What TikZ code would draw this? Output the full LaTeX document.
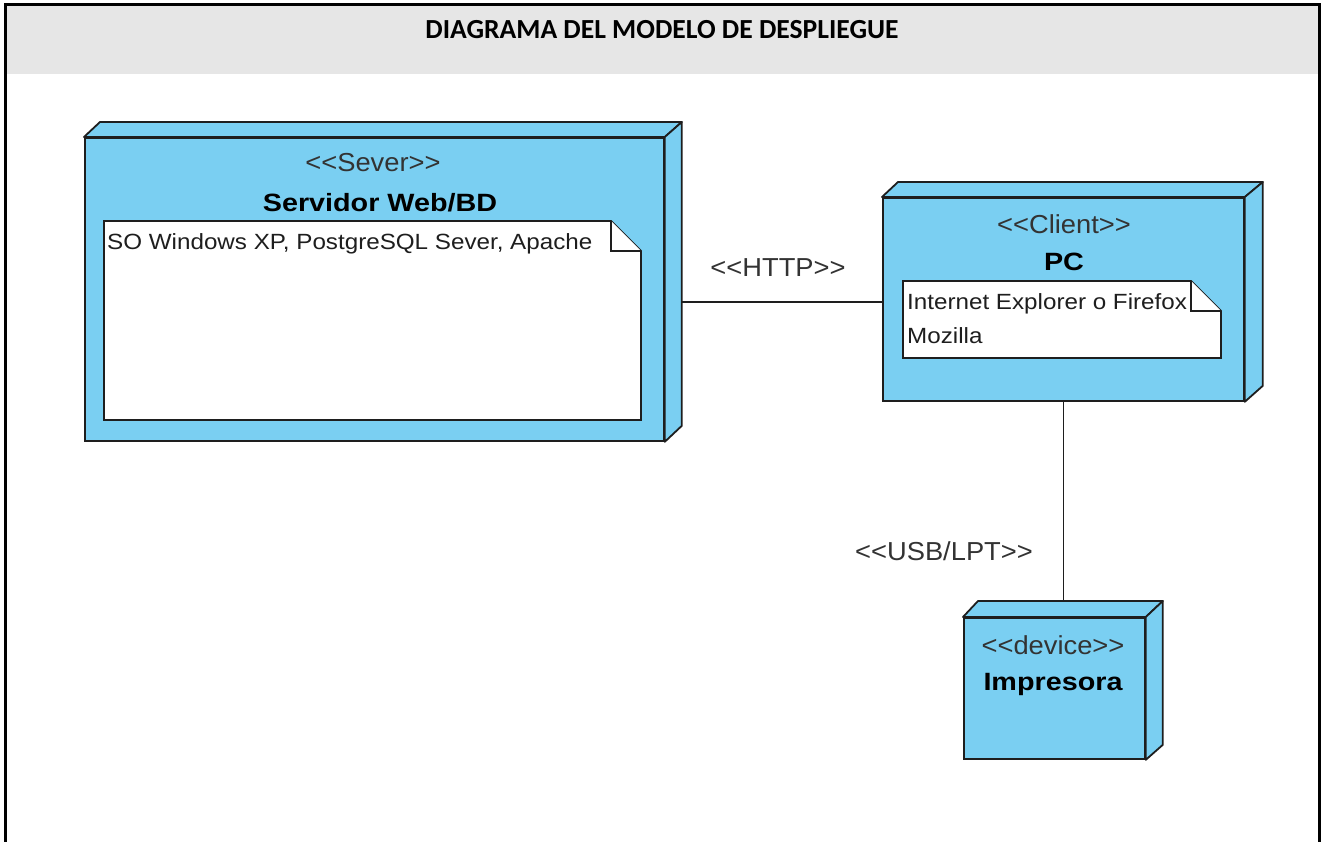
\documentclass[tikz,border=0pt]{standalone}
\usepackage{fontspec}
\setmainfont{Liberation Sans}
\newfontfamily\titlefont{Carlito}
\newfontfamily\notefont[FakeStretch=1.1]{Liberation Sans}
\newfontfamily\stfont[FakeStretch=1.05]{Liberation Sans}
\newfontfamily\namefont[FakeStretch=1.15]{Liberation Sans}
\definecolor{nodeblue}{HTML}{7ACFF2}
\definecolor{edgecol}{HTML}{1E1E1E}
\definecolor{headgray}{HTML}{E6E6E6}
\definecolor{stereocol}{HTML}{333333}
\newcommand\stereo[1]{<{}<#1>{}>}
\begin{document}
\begin{tikzpicture}[x=1pt,y=-1pt,
  face/.style={draw=edgecol,fill=nodeblue,line width=1.8pt,inner sep=0pt,anchor=north west},
  side/.style={draw=edgecol,fill=nodeblue,line width=1.8pt,line join=round},
  note/.style={draw=edgecol,fill=white,line width=1.8pt,line join=miter},
  conn/.style={draw=edgecol,line width=1.8pt},
  stlabel/.style={font=\stfont\fontsize{26}{29}\selectfont,text=stereocol,inner sep=0pt},
  namelabel/.style={font=\namefont\fontsize{25}{28}\selectfont\bfseries,text=black,inner sep=0pt},
  notetext/.style={font=\notefont\fontsize{22}{25}\selectfont,text=edgecol,inner sep=0pt,anchor=west},
  title/.style={font=\titlefont\fontsize{27.6}{30}\selectfont\bfseries,inner sep=0pt}]
\useasboundingbox (0,0) rectangle (1325,842);
% header and frame
\fill[headgray] (5,5) rectangle (1319,74);
\draw[line width=3pt] (5,842) -- (5,5) -- (1319,5) -- (1319,842);
\node[title] (ttl) at (662,30) {DIAGRAMA DEL MODELO DE DESPLIEGUE};

% Servidor
\node[face,minimum width=579pt,minimum height=303pt] (srv) at (84,137) {};
\draw[side] (srv.north west) -- ++(16,-15) -- ([shift={(17,-15)}]srv.north east) -- (srv.north east) -- cycle;
\draw[side] (srv.north east) -- ++(17,-15) -- ([shift={(17,-16)}]srv.south east) -- (srv.south east) -- cycle;
\coordinate (srvback) at ([shift={(17,0)}]srv.east);
\node[stlabel] (srvst) at (373,163) {\stereo{Sever}};
\node[namelabel] (srvnm) at (380,203) {Servidor Web/BD};
\draw[note] (104,221) -- (611,221) -- (641,251) -- (641,420) -- (104,420) -- cycle;
\draw[note] (611,221) -- (611,251) -- (641,251);
\node[notetext] (srvnote) at (107,244) {SO Windows XP, PostgreSQL Sever, Apache};

% PC
\node[face,minimum width=361pt,minimum height=203pt] (pc) at (882,197) {};
\draw[side] (pc.north west) -- ++(16,-15) -- ([shift={(18,-15)}]pc.north east) -- (pc.north east) -- cycle;
\draw[side] (pc.north east) -- ++(18,-15) -- ([shift={(18,-16)}]pc.south east) -- (pc.south east) -- cycle;
\node[stlabel] (pcst) at (1064,224) {\stereo{Client}};
\node[namelabel] (pcnm) at (1064,262) {PC};
\draw[note] (903,281) -- (1191,281) -- (1221,311) -- (1221,358) -- (903,358) -- cycle;
\draw[note] (1191,281) -- (1191,311) -- (1221,311);
\node[notetext] (pcnote1) at (907,304) {Internet Explorer o Firefox};
\node[notetext] (pcnote2) at (907,336) {Mozilla};

% Impresora
\node[face,minimum width=181pt,minimum height=141pt] (imp) at (963,617) {};
\draw[side] (imp.north west) -- ++(15,-16) -- ([shift={(17,-16)}]imp.north east) -- (imp.north east) -- cycle;
\draw[side] (imp.north east) -- ++(17,-16) -- ([shift={(17,-15)}]imp.south east) -- (imp.south east) -- cycle;
\node[stlabel] (impst) at (1053,645) {\stereo{device}};
\node[namelabel] (impnm) at (1053,684) {Impresora};
\coordinate (imptop) at (pc.south |- 0,601);

% connectors
\coordinate (pcin) at ([yshift=-3pt]pc.west);
\draw[conn] (pcin) -- (pcin -| srvback);
\node[stlabel] (http) at (778,268) {\stereo{HTTP}};
\draw[conn] (pc.south) -- (imptop);
\node[stlabel] (usb) at (944,551) {\stereo{USB/LPT}};
\end{tikzpicture}
\end{document}
